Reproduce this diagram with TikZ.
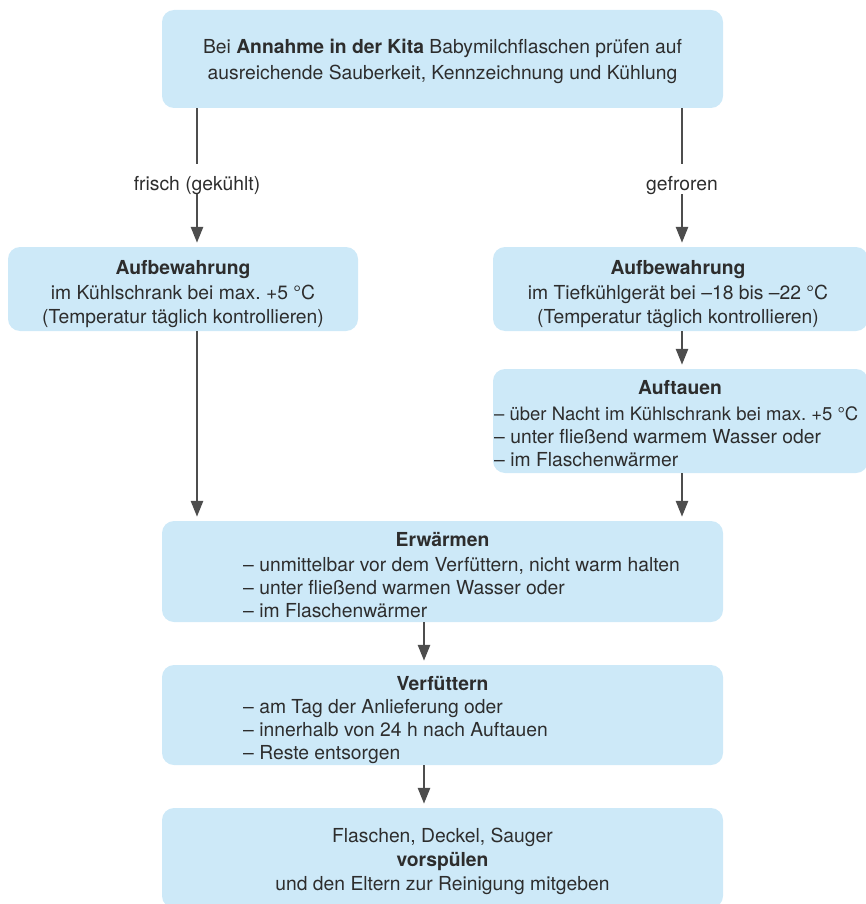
\documentclass[tikz,border=0pt]{standalone}
\usepackage{fontspec}
\setmainfont{TeX Gyre Heros}
\usetikzlibrary{arrows.meta,calc}
\definecolor{boxblue}{HTML}{CDE9F8}
\definecolor{textgray}{HTML}{2D2D2D}
\definecolor{arrowgray}{HTML}{4D4D4D}
\frenchspacing
\tikzset{
  box/.style={fill=boxblue, rounded corners=12pt, draw=none, inner sep=0pt, minimum width=#1},
  txt/.style={anchor=base, inner sep=0pt, text=textgray, font=\fontsize{19.3}{23}\selectfont},
  ttl/.style={txt, font=\fontsize{19.3}{23}\selectfont\bfseries},
  lft/.style={txt, anchor=base west},
  conn/.style={draw=arrowgray, line width=2.7pt},
  arr/.style={conn, -{Triangle[length=16pt,width=12pt]}, shorten >=4pt},
}
\begin{document}
\begin{tikzpicture}[x=1pt,y=-1pt]
\useasboundingbox (0,0) rectangle (865,904);
% boxes
\node[box=561pt, minimum height=98pt]  (top) at (442.5,59) {};
\node[box=350pt, minimum height=84pt]  (a1)  at (183,289) {};
\node[box=375pt, minimum height=84pt]  (a2)  at (680.5,289) {};
\node[box=375pt, minimum height=104pt] (tau) at (680.5,421) {};
\node[box=561pt, minimum height=101pt] (erw) at (442.5,571.5) {};
\node[box=561pt, minimum height=100pt] (ver) at (442.5,715) {};
\node[box=561pt, minimum height=100pt] (spu) at (442.5,858) {};
% texts
\node[txt] (top1) at (442.5,54) {Bei \textbf{Annahme in der Kita} Babymilchflaschen prüfen auf};
\node[txt] (top2) at (442.5,80) {ausreichende Sauberkeit, Kennzeichnung und Kühlung};
\node[txt] (lfr) at (197,190) {frisch (gekühlt)};
\node[txt] (lgf) at (682,190) {gefroren};
\node[ttl] (a1t) at (183,274) {Aufbewahrung};
\node[txt] (a1l1) at (183,299) {im Kühlschrank bei max. +5~°C};
\node[txt] (a1l2) at (183,323) {(Temperatur täglich kontrollieren)};
\node[ttl] (a2t) at (678,274) {Aufbewahrung};
\node[txt] (a2l1) at (678,299) {im Tiefkühlgerät bei –18 bis –22~°C};
\node[txt] (a2l2) at (678,323) {(Temperatur täglich kontrollieren)};
\node[ttl] (taut) at (680,394) {Auftauen};
\node[lft, font=\fontsize{18.5}{23}\selectfont] (tau1) at (494,420) {– über Nacht im Kühlschrank bei max. +5~°C};
\node[lft] (tau2) at (494,443) {– unter fließend warmem Wasser oder};
\node[lft] (tau3) at (494,466) {– im Flaschenwärmer};
\node[ttl] (erwt) at (442.5,546) {Erwärmen};
\node[lft] (erw1) at (243,571) {– unmittelbar vor dem Verfüttern, nicht warm halten};
\node[lft] (erw2) at (243,594) {– unter fließend warmen Wasser oder};
\node[lft] (erw3) at (243,617) {– im Flaschenwärmer};
\node[ttl] (vert) at (442.5,690) {Verfüttern};
\node[lft] (ver1) at (243,713) {– am Tag der Anlieferung oder};
\node[lft] (ver2) at (243,736) {– innerhalb von 24 h nach Auftauen};
\node[lft] (ver3) at (243,759) {– Reste entsorgen};
\node[txt] (spu1) at (442.5,842) {Flaschen, Deckel, Sauger};
\node[ttl] (spu2) at (442.5,866) {vorspülen};
\node[txt] (spu3) at (442.5,890) {und den Eltern zur Reinigung mitgeben};
% connectors
\draw[conn] (lfr |- top.south) -- ([yshift=12pt]lfr.north);
\draw[arr] (lfr.south) -- (lfr |- a1.north);
\draw[conn] (lgf |- top.south) -- ([yshift=12pt]lgf.north);
\draw[arr] (lgf.south) -- (lgf |- a2.north);
\draw[arr] (lgf |- a2.south) -- (lgf |- tau.north);
\draw[arr] (lgf |- tau.south) -- (lgf |- erw.north);
\draw[arr] (lfr |- a1.south) -- (lfr |- erw.north);
\coordinate (mid) at (424,0);
\draw[arr] (mid |- erw.south) -- (mid |- ver.north);
\draw[arr] (mid |- ver.south) -- (mid |- spu.north);
\end{tikzpicture}
\end{document}
